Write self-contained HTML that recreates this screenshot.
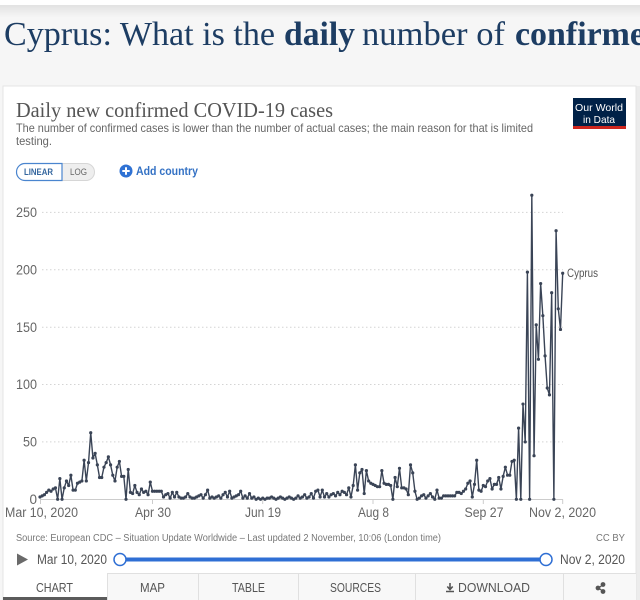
<!DOCTYPE html>
<html><head><meta charset="utf-8">
<style>
html,body{margin:0;padding:0;background:#f5f5f5;}
body{width:640px;height:600px;overflow:hidden;}
svg{display:block;}
.s{font-family:"Liberation Sans",Arial,sans-serif;}
.r{font-family:"Liberation Serif",serif;}
</style></head>
<body>
<svg id="sv" width="640" height="600" viewBox="0 0 640 600" xmlns="http://www.w3.org/2000/svg">
<defs>
<linearGradient id="sh" x1="0" y1="0" x2="0" y2="1">
<stop offset="0" stop-color="#e2e2e2"/><stop offset="1" stop-color="#f5f5f5"/>
</linearGradient>
</defs>
<rect x="0" y="0" width="640" height="600" fill="#f6f6f6"/>
<rect x="0" y="5" width="640" height="12" fill="url(#sh)"/>
<rect x="0" y="0" width="640" height="5" fill="#ffffff"/>

<g class="r" fill="#1d3d63" font-size="34">
<text x="4" y="45" textLength="271" lengthAdjust="spacingAndGlyphs">Cyprus: What is the</text>
<text x="284" y="45" font-weight="bold" textLength="71" lengthAdjust="spacingAndGlyphs">daily</text>
<text x="362" y="45" textLength="143" lengthAdjust="spacingAndGlyphs">number of</text>
<text x="515" y="45" font-weight="bold" textLength="130" lengthAdjust="spacingAndGlyphs">confirme</text>
</g>

<rect x="636" y="86" width="4" height="514" fill="#ececec"/>
<rect x="3" y="86" width="633" height="520" fill="#ffffff" stroke="#e4e4e4" stroke-width="1"/>

<text class="r" x="16" y="117" font-size="21" fill="#555" textLength="317" lengthAdjust="spacingAndGlyphs">Daily new confirmed COVID-19 cases</text>
<text class="s" x="16" y="132" font-size="11.8" fill="#666" textLength="517" lengthAdjust="spacingAndGlyphs">The number of confirmed cases is lower than the number of actual cases; the main reason for that is limited</text>
<text class="s" x="16" y="145" font-size="11.8" fill="#666" textLength="36" lengthAdjust="spacingAndGlyphs">testing.</text>

<rect x="16.5" y="163.5" width="78" height="17" rx="8.5" fill="#eeeeee" stroke="#d6d6d6"/>
<path d="M25,163.5 H62 V180.5 H25 A8.5,8.5 0 0 1 25,163.5 Z" fill="#ffffff" stroke="#4a85cf" stroke-width="1.2"/>
<text class="s" x="24" y="175" font-size="9" font-weight="bold" fill="#35679f" textLength="29" lengthAdjust="spacingAndGlyphs">LINEAR</text>
<text class="s" x="70" y="175" font-size="9" fill="#666" textLength="17" lengthAdjust="spacingAndGlyphs">LOG</text>

<circle cx="126" cy="171" r="6.5" fill="#2f72d4"/>
<path d="M126,167.3 V174.7 M122.3,171 H129.7" stroke="#fff" stroke-width="2"/>
<text class="s" x="136" y="175" font-size="12" font-weight="bold" fill="#3371c4" textLength="62" lengthAdjust="spacingAndGlyphs">Add country</text>

<rect x="573" y="98" width="53" height="30" fill="#002147"/>
<rect x="573" y="126" width="53" height="3" fill="#ce261e"/>
<text class="s" x="575" y="111" font-size="10.5" fill="#fff" textLength="48" lengthAdjust="spacingAndGlyphs">Our World</text>
<text class="s" x="583" y="123" font-size="10.5" fill="#fff" textLength="32" lengthAdjust="spacingAndGlyphs">in Data</text>

<g stroke="#d4d4d4" stroke-width="1" stroke-dasharray="1.5,2.5">
<line x1="42" y1="212.4" x2="563" y2="212.4"/>
<line x1="42" y1="269.8" x2="563" y2="269.8"/>
<line x1="42" y1="327.2" x2="563" y2="327.2"/>
<line x1="42" y1="384.5" x2="563" y2="384.5"/>
<line x1="42" y1="441.9" x2="563" y2="441.9"/>
</g>
<g class="s" font-size="13.5" fill="#666" text-anchor="end">
<text x="37" y="217" textLength="21" lengthAdjust="spacingAndGlyphs">250</text>
<text x="37" y="274.5" textLength="21" lengthAdjust="spacingAndGlyphs">200</text>
<text x="37" y="332" textLength="21" lengthAdjust="spacingAndGlyphs">150</text>
<text x="37" y="389" textLength="21" lengthAdjust="spacingAndGlyphs">100</text>
<text x="37" y="446.5" textLength="14" lengthAdjust="spacingAndGlyphs">50</text>
<text x="37" y="504">0</text>
</g>
<line x1="40" y1="499.5" x2="563" y2="499.5" stroke="#cccccc"/>
<g stroke="#cccccc">
<line x1="40.5" y1="499.5" x2="40.5" y2="504"/>
<line x1="152.5" y1="499.5" x2="152.5" y2="504"/>
<line x1="262.7" y1="499.5" x2="262.7" y2="504"/>
<line x1="373" y1="499.5" x2="373" y2="504"/>
<line x1="483.3" y1="499.5" x2="483.3" y2="504"/>
<line x1="562.7" y1="499.5" x2="562.7" y2="504"/>
</g>
<g class="s" font-size="13.5" fill="#666" text-anchor="middle">
<text x="41.5" y="517" textLength="73" lengthAdjust="spacingAndGlyphs">Mar 10, 2020</text>
<text x="153" y="517" textLength="36" lengthAdjust="spacingAndGlyphs">Apr 30</text>
<text x="263" y="517" textLength="36" lengthAdjust="spacingAndGlyphs">Jun 19</text>
<text x="373.5" y="517" textLength="31" lengthAdjust="spacingAndGlyphs">Aug 8</text>
<text x="484" y="517" textLength="39" lengthAdjust="spacingAndGlyphs">Sep 27</text>
<text x="562.5" y="517" textLength="67" lengthAdjust="spacingAndGlyphs">Nov 2, 2020</text>
</g>

<g id="series"></g>
<text class="s" x="567" y="277" font-size="11.5" fill="#555" textLength="31" lengthAdjust="spacingAndGlyphs">Cyprus</text>

<text class="s" x="16" y="541" font-size="10" fill="#777" textLength="425" lengthAdjust="spacingAndGlyphs">Source: European CDC – Situation Update Worldwide – Last updated 2 November, 10:06 (London time)</text>
<text class="s" x="596" y="541" font-size="10" fill="#777" textLength="29" lengthAdjust="spacingAndGlyphs">CC BY</text>

<path d="M17,553.5 L28,559.5 L17,565.5 Z" fill="#6a6a6a"/>
<text class="s" x="37" y="564" font-size="13.5" fill="#555" textLength="70" lengthAdjust="spacingAndGlyphs">Mar 10, 2020</text>
<line x1="120" y1="559.5" x2="546" y2="559.5" stroke="#2f6fd4" stroke-width="4"/>
<circle cx="120" cy="559.5" r="6" fill="#fff" stroke="#2f6fd4" stroke-width="1.5"/>
<circle cx="546" cy="559.5" r="6" fill="#fff" stroke="#2f6fd4" stroke-width="1.5"/>
<text class="s" x="560" y="564" font-size="13.5" fill="#555" textLength="65" lengthAdjust="spacingAndGlyphs">Nov 2, 2020</text>

<rect x="107" y="573.5" width="529" height="27" fill="#f8f8f8"/>
<line x1="107" y1="573.5" x2="636" y2="573.5" stroke="#e0e0e0"/>
<g stroke="#e0e0e0">
<line x1="107.5" y1="573.5" x2="107.5" y2="600"/>
<line x1="198.5" y1="573.5" x2="198.5" y2="600"/>
<line x1="298.5" y1="573.5" x2="298.5" y2="600"/>
<line x1="415.5" y1="573.5" x2="415.5" y2="600"/>
<line x1="563.5" y1="573.5" x2="563.5" y2="600"/>
</g>
<rect x="3" y="597" width="104" height="3" fill="#5b5b5b"/>
<g class="s" font-size="12.5" fill="#555">
<text x="36" y="592" textLength="37" lengthAdjust="spacingAndGlyphs">CHART</text>
<text x="140" y="592" textLength="25" lengthAdjust="spacingAndGlyphs">MAP</text>
<text x="232" y="592" textLength="33" lengthAdjust="spacingAndGlyphs">TABLE</text>
<text x="330" y="592" textLength="51" lengthAdjust="spacingAndGlyphs">SOURCES</text>
<text x="458" y="592" textLength="72" lengthAdjust="spacingAndGlyphs">DOWNLOAD</text>
</g>
<path d="M450,583 V589 M447.3,586.5 L450,589.5 L452.7,586.5 M446,591.5 H454" stroke="#555" stroke-width="1.6" fill="none"/>
<g fill="#555" stroke="#555" stroke-width="1.2">
<line x1="598" y1="588" x2="603" y2="585"/>
<line x1="598" y1="588" x2="603" y2="591"/>
<circle cx="598" cy="588" r="1.8"/>
<circle cx="603" cy="584.5" r="1.8"/>
<circle cx="603" cy="591.5" r="1.8"/>
</g>
</svg>
<script>
(function(){
var d=[2,3,4,6,8,7,9,10,0,18,0,10,16,12,21,8,8,14,15,16,34,16,32,58,36,40,30,19,19,28,32,37,30,21,16,28,33,20,20,0,26,6,5,12,6,4,9,6,7,4,15,7,7,7,7,7,2,4,5,1,
6,2,6,2,1,1,2,5,2,1,1,2,3,4,1,4,8,1,2,1,2,3,1,4,6,2,7,1,2,3,4,7,1,3,1,5,1,2,0,1,
0,1,0,1,1,2,1,0,1,2,1,0,1,2,1,0,1,3,1,2,4,1,2,5,1,7,8,2,8,2,5,2,4,5,3,6,4,7,6,4,10,2,12,30,8,
23,26,5,25,16,14,13,12,11,11,25,14,13,13,12,0,19,11,27,10,10,9,4,30,23,7,0,1,3,4,1,3,5,2,0,8,1,1,3,3,3,3,3,3,6,6,5,7,9,14,16,2,13,34,8,7,12,11,16,18,9,13,13,19,9,20,28,21,21,33,34,
0,62,0,83,50,198,0,265,38,152,122,188,160,125,97,91,180,0,234,166,148,197];
var ns="http://www.w3.org/2000/svg",g=document.getElementById("series");
var pts=[],i,x,y;
for(i=0;i<d.length;i++){x=40+i*(522.7/237);y=499.3-d[i]*1.1476;pts.push(x.toFixed(2)+","+y.toFixed(2));}
var pl=document.createElementNS(ns,"polyline");
pl.setAttribute("points",pts.join(" "));pl.setAttribute("fill","none");
pl.setAttribute("stroke","#3a4456");pl.setAttribute("stroke-width","1.4");pl.setAttribute("stroke-linejoin","round");
g.appendChild(pl);
for(i=0;i<pts.length;i++){var p=pts[i].split(",");var c=document.createElementNS(ns,"circle");
c.setAttribute("cx",p[0]);c.setAttribute("cy",p[1]);c.setAttribute("r","1.6");c.setAttribute("fill","#3a4456");g.appendChild(c);}
})();
</script>
</body></html>
